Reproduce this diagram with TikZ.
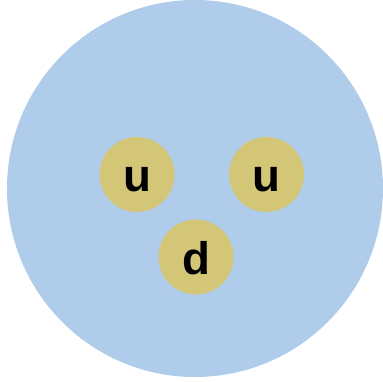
\documentclass[tikz,border=0pt]{standalone}
\usepackage{fontspec}
\setmainfont{Liberation Sans}
\definecolor{protonblue}{HTML}{AFCDEA}
\definecolor{quarkgold}{HTML}{D4C677}
\tikzset{
  quark/.style={circle,fill=quarkgold,minimum size=1.5cm,inner sep=0pt,
    text height=0.7cm,text depth=0pt,
    font=\fontsize{26}{28}\selectfont\bfseries},
}
\begin{document}
\begin{tikzpicture}[x=0.02cm,y=-0.02cm]
	  \useasboundingbox (0,0) rectangle (383,382);
	  \fill[protonblue] (195,188.5) ellipse (188 and 188.5);
	  \node[quark] (u1) at (137,174.5) {u};
	  \node[quark] (u2) at (266.5,174.5) {u};
	  \node[quark] (d1) at (196,257) {d};
	\end{tikzpicture}
\end{document}
